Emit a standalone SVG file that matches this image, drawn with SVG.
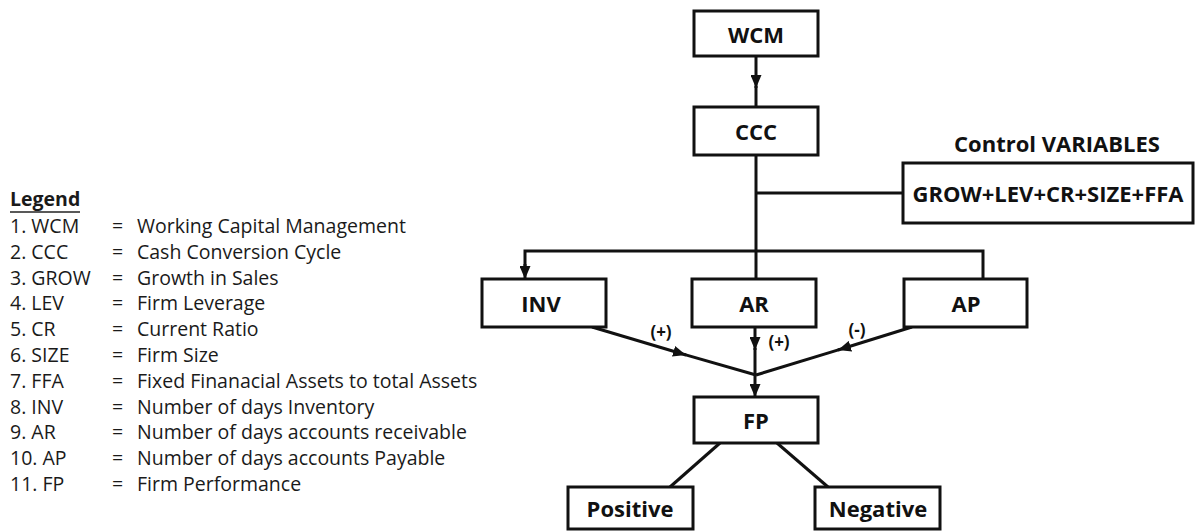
<svg xmlns="http://www.w3.org/2000/svg" width="1196" height="532" viewBox="0 0 1196 532">
<style>
.box{fill:#fff;stroke:#111;stroke-width:3}
.lbl{font-family:"Open Sans","Liberation Sans",sans-serif;font-weight:bold;font-size:22px;fill:#111;text-anchor:middle;dominant-baseline:central}
.sm{font-family:"Open Sans","Liberation Sans",sans-serif;font-weight:bold;font-size:17px;fill:#111;text-anchor:middle}
.lg{font-family:"Open Sans","Liberation Sans",sans-serif;font-size:19.5px;fill:#1a1a1a}
.ln{fill:none;stroke:#111;stroke-width:3}
</style>
<defs>
<marker id="ah" viewBox="0 0 13 11" markerWidth="13" markerHeight="11" refX="13" refY="5.5" orient="auto" markerUnits="userSpaceOnUse">
<path d="M0,0 L13,5.5 L0,11 z" fill="#111"/>
</marker>
</defs>
<rect width="1196" height="532" fill="#fff"/>
<g id="legend">
<text class="lg" x="10" y="206" font-weight="bold">Legend</text>
<line x1="10" y1="212" x2="80" y2="212" stroke="#222" stroke-width="1.5"/>
<g class="lg">
<text x="10" y="233">1. WCM</text><text x="112" y="233">=</text><text x="137" y="233">Working Capital Management</text>
<text x="10" y="259">2. CCC</text><text x="112" y="259">=</text><text x="137" y="259">Cash Conversion Cycle</text>
<text x="10" y="284.6">3. GROW</text><text x="112" y="284.6">=</text><text x="137" y="284.6">Growth in Sales</text>
<text x="10" y="310.4">4. LEV</text><text x="112" y="310.4">=</text><text x="137" y="310.4">Firm Leverage</text>
<text x="10" y="336.2">5. CR</text><text x="112" y="336.2">=</text><text x="137" y="336.2">Current Ratio</text>
<text x="10" y="362">6. SIZE</text><text x="112" y="362">=</text><text x="137" y="362">Firm Size</text>
<text x="10" y="387.8">7. FFA</text><text x="112" y="387.8">=</text><text x="137" y="387.8">Fixed Finanacial Assets to total Assets</text>
<text x="10" y="413.6">8. INV</text><text x="112" y="413.6">=</text><text x="137" y="413.6">Number of days Inventory</text>
<text x="10" y="439.4">9. AR</text><text x="112" y="439.4">=</text><text x="137" y="439.4">Number of days accounts receivable</text>
<text x="10" y="465.2">10. AP</text><text x="112" y="465.2">=</text><text x="137" y="465.2">Number of days accounts Payable</text>
<text x="10" y="491">11. FP</text><text x="112" y="491">=</text><text x="137" y="491">Firm Performance</text>
</g>
</g>
<g id="connectors">
<line class="ln" x1="756" y1="56" x2="756" y2="88" marker-end="url(#ah)"/>
<line class="ln" x1="756" y1="86" x2="756" y2="107"/>
<line class="ln" x1="756" y1="155" x2="756" y2="279"/>
<line class="ln" x1="756" y1="193" x2="903" y2="193"/>
<polyline class="ln" points="525,266 525,251 983,251 983,279"/>
<line class="ln" x1="525" y1="264" x2="525" y2="279" marker-end="url(#ah)"/>
<line class="ln" x1="592" y1="327" x2="686" y2="355" marker-end="url(#ah)"/>
<line class="ln" x1="684" y1="354.4" x2="756" y2="375"/>
<line class="ln" x1="912" y1="327" x2="838" y2="350" marker-end="url(#ah)"/>
<line class="ln" x1="840" y1="349.4" x2="756" y2="375"/>
<line class="ln" x1="755" y1="327" x2="755" y2="350" marker-end="url(#ah)"/>
<line class="ln" x1="755" y1="348" x2="755" y2="375"/>
<line class="ln" x1="755" y1="374" x2="755" y2="397" marker-end="url(#ah)"/>
<line class="ln" x1="720" y1="443" x2="670" y2="487"/>
<line class="ln" x1="777" y1="443" x2="828" y2="487"/>
<text class="sm" x="661" y="338">(+)</text>
<text class="sm" x="779" y="348">(+)</text>
<text class="sm" x="857" y="336">(-)</text>
</g>
<g id="wcm"><rect class="box" x="694" y="11" width="124" height="45"/><text class="lbl" x="756" y="34">WCM</text></g>
<g id="ccc"><rect class="box" x="694" y="107" width="124" height="48"/><text class="lbl" x="756" y="131">CCC</text></g>
<g id="control">
<text class="lbl" x="1057" y="143" font-size="20">Control VARIABLES</text>
<rect class="box" x="903" y="163" width="290" height="60"/>
<text class="lbl" x="1048" y="193">GROW+LEV+CR+SIZE+FFA</text>
</g>
<g id="inv"><rect class="box" x="482" y="279" width="124" height="48"/><text class="lbl" x="541" y="303">INV</text></g>
<g id="ar"><rect class="box" x="692" y="279" width="124" height="48"/><text class="lbl" x="754" y="303">AR</text></g>
<g id="ap"><rect class="box" x="904" y="279" width="123" height="48"/><text class="lbl" x="966" y="303">AP</text></g>
<g id="fp"><rect class="box" x="694" y="397" width="124" height="46"/><text class="lbl" x="756" y="420">FP</text></g>
<g id="positive"><rect class="box" x="568" y="487" width="125" height="42"/><text class="lbl" x="630" y="508">Positive</text></g>
<g id="negative"><rect class="box" x="815" y="487" width="125" height="42"/><text class="lbl" x="878" y="508">Negative</text></g>
</svg>
